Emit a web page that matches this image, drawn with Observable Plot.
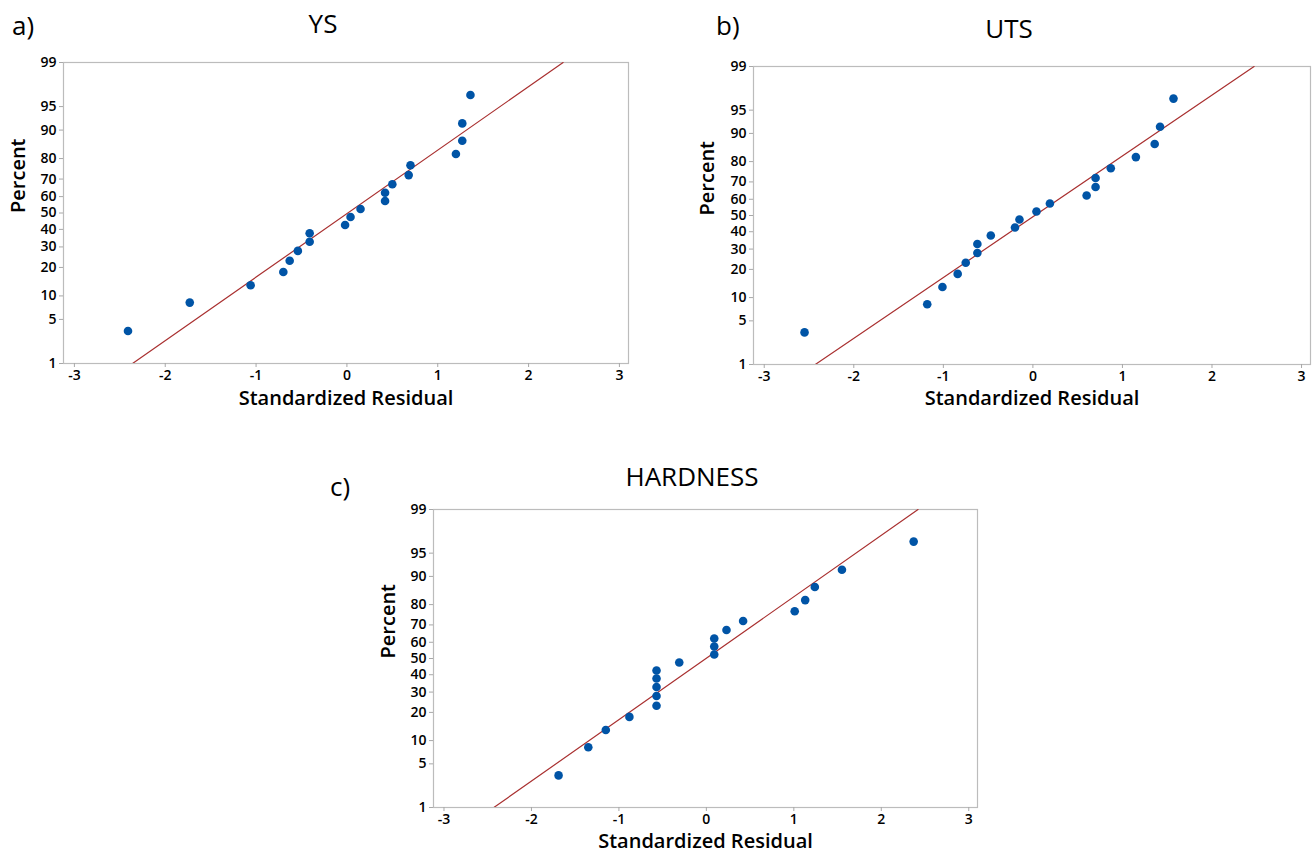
<!DOCTYPE html>
<html><head><meta charset="utf-8">
<script src="https://cdn.jsdelivr.net/npm/d3@7"></script>
<script src="https://cdn.jsdelivr.net/npm/@observablehq/plot@0.6"></script>
<style>
body{margin:0;background:#fff;font-family:"Open Sans",sans-serif;}
#wrap{position:relative;width:1314px;height:858px;overflow:hidden;background:#fff;}
.t{position:absolute;color:#000;white-space:nowrap;line-height:1;transform:translate(-50%,-50%);}
.lbl{position:absolute;color:#000;white-space:nowrap;line-height:1;transform:translate(0,-50%);}
.panel{position:absolute;}
</style></head><body><div id="wrap"></div>
<script>
// ---- data ----
const percentTicks = [1, 5, 10, 20, 30, 40, 50, 60, 70, 80, 90, 95, 99];
const xTicks = [-3, -2, -1, 0, 1, 2, 3];
const plotPercents = [3.4, 8.3, 13.2, 18.1, 23.0, 27.9, 32.8, 37.7, 42.6, 47.5, 52.5, 57.4, 62.3, 67.2, 72.1, 77.0, 81.9, 86.8, 91.7, 96.6];
const ysResid   = [-2.41, -1.73, -1.06, -0.70, -0.63, -0.54, -0.41, -0.41, -0.02, 0.04, 0.15, 0.42, 0.42, 0.50, 0.68, 0.70, 1.20, 1.27, 1.27, 1.36];
const utsResid  = [-2.55, -1.18, -1.01, -0.84, -0.75, -0.62, -0.62, -0.47, -0.20, -0.15, 0.04, 0.19, 0.60, 0.70, 0.70, 0.87, 1.15, 1.36, 1.42, 1.57];
const hardResid = [-1.69, -1.35, -1.15, -0.88, -0.57, -0.57, -0.57, -0.57, -0.57, -0.31, 0.09, 0.09, 0.09, 0.23, 0.42, 1.01, 1.13, 1.24, 1.55, 2.37];
const fitPercents = [1, 99];
const ysFitX   = [-2.36, 2.38];
const utsFitX  = [-2.43, 2.47];
const hardFitX = [-2.43, 2.42];
const panelTitles = ["YS", "UTS", "HARDNESS"];
const panelTags = ["a)", "b)", "c)"];

// inverse standard normal CDF (normal probability scale)
function probit(p){
  const a=[-3.969683028665376e+01,2.209460984245205e+02,-2.759285104469687e+02,1.383577518672690e+02,-3.066479806614716e+01,2.506628277459239e+00];
  const b=[-5.447609879822406e+01,1.615858368580409e+02,-1.556989798598866e+02,6.680131188771972e+01,-1.328068155288572e+01];
  const c=[-7.784894002430293e-03,-3.223964580411365e-01,-2.400758277161838e+00,-2.549732539343734e+00,4.374664141464968e+00,2.938163982698783e+00];
  const d=[7.784695709041462e-03,3.224671290700398e-01,2.445134137142996e+00,3.754408661907416e+00];
  const pl=0.02425, ph=1-pl; let q, r;
  if (p < pl) { q=Math.sqrt(-2*Math.log(p)); return (((((c[0]*q+c[1])*q+c[2])*q+c[3])*q+c[4])*q+c[5])/((((d[0]*q+d[1])*q+d[2])*q+d[3])*q+1); }
  if (p > ph) { q=Math.sqrt(-2*Math.log(1-p)); return -(((((c[0]*q+c[1])*q+c[2])*q+c[3])*q+c[4])*q+c[5])/((((d[0]*q+d[1])*q+d[2])*q+d[3])*q+1); }
  q=p-0.5; r=q*q; return (((((a[0]*r+a[1])*r+a[2])*r+a[3])*r+a[4])*r+a[5])*q/(((((b[0]*r+b[1])*r+b[2])*r+b[3])*r+b[4])*r+1);
}
const z = p => probit(p / 100);
const yTickZ = percentTicks.map(z);
const yFmt = new Map(yTickZ.map((v, i) => [v, String(percentTicks[i])]));

const wrap = document.getElementById("wrap");

function makePanel(o){
  const pts = o.resid.map((x, i) => ({x, p: plotPercents[i]}));
  const fit = o.fitX.map((x, i) => ({x, p: fitPercents[i]}));
  const chart = Plot.plot({
    width: o.width, height: o.height,
    marginLeft: o.mL, marginRight: o.mR, marginTop: o.mT, marginBottom: o.mB,
    style: {fontFamily: "'Open Sans', sans-serif", fontSize: "14px", color: "#000", background: "#fff", overflow: "visible"},
    x: {domain: [-3.12, 3.1]},
    y: {domain: [z(1), z(99)]},
    marks: [
      Plot.frame({stroke: "#bcbcbc", strokeWidth: 1.2}),
      Plot.axisX(xTicks, {tickSize: 4, tickPadding: 3, stroke: "#a8a8a8", fill: "#000", fontWeight: 600, tickFormat: d => String(d), label: null}),
      Plot.axisY(yTickZ, {tickSize: 4, tickPadding: 3, stroke: "#a8a8a8", fill: "#000", fontWeight: 600, tickFormat: v => yFmt.get(v), label: null}),
      Plot.line(fit, {x: "x", y: d => z(d.p), stroke: "#a93030", strokeWidth: 1.2, clip: true}),
      Plot.dot(pts, {x: "x", y: d => z(d.p), r: 4.3, fill: "#0054a6", stroke: "none"}),
      Plot.text(["Standardized Residual"], {text: d => d, frameAnchor: "bottom", dy: o.xLabDy, fontSize: 20, fontWeight: 600, fill: "#000"}),
      Plot.text(["Percent"], {text: d => d, frameAnchor: "left", rotate: -90, dx: o.yLabDx, fontSize: 20, fontWeight: 600, fill: "#000"})
    ]
  });
  const holder = document.createElement("div");
  holder.className = "panel";
  holder.style.left = o.left + "px";
  holder.style.top = o.top + "px";
  holder.appendChild(chart);
  wrap.appendChild(holder);

  const title = document.createElement("div");
  title.className = "t";
  title.style.left = o.titleX + "px"; title.style.top = o.titleY + "px";
  title.style.fontSize = "26px";
  title.textContent = o.title;
  wrap.appendChild(title);

  const tag = document.createElement("div");
  tag.className = "lbl";
  tag.style.left = o.tagX + "px"; tag.style.top = o.tagY + "px";
  tag.style.fontSize = "26px";
  tag.textContent = o.tag;
  wrap.appendChild(tag);
}

makePanel({resid: ysResid, fitX: ysFitX, left: 0, top: 40, width: 660, height: 390,
  mL: 63, mR: 32, mT: 22, mB: 67, xLabDy: 41, yLabDx: -45,
  title: panelTitles[0], titleX: 323, titleY: 23, tag: panelTags[0], tagX: 12, tagY: 25});
makePanel({resid: utsResid, fitX: utsFitX, left: 690, top: 40, width: 624, height: 390,
  mL: 63, mR: 4, mT: 26, mB: 66, xLabDy: 40, yLabDx: -46,
  title: panelTitles[1], titleX: 1009, titleY: 28, tag: panelTags[1], tagX: 716, tagY: 25});
makePanel({resid: hardResid, fitX: hardFitX, left: 330, top: 480, width: 660, height: 378,
  mL: 103, mR: 13, mT: 29, mB: 51, xLabDy: 40, yLabDx: -45,
  title: panelTitles[2], titleX: 692, titleY: 476, tag: panelTags[2], tagX: 330, tagY: 486});
</script>
</body></html>
